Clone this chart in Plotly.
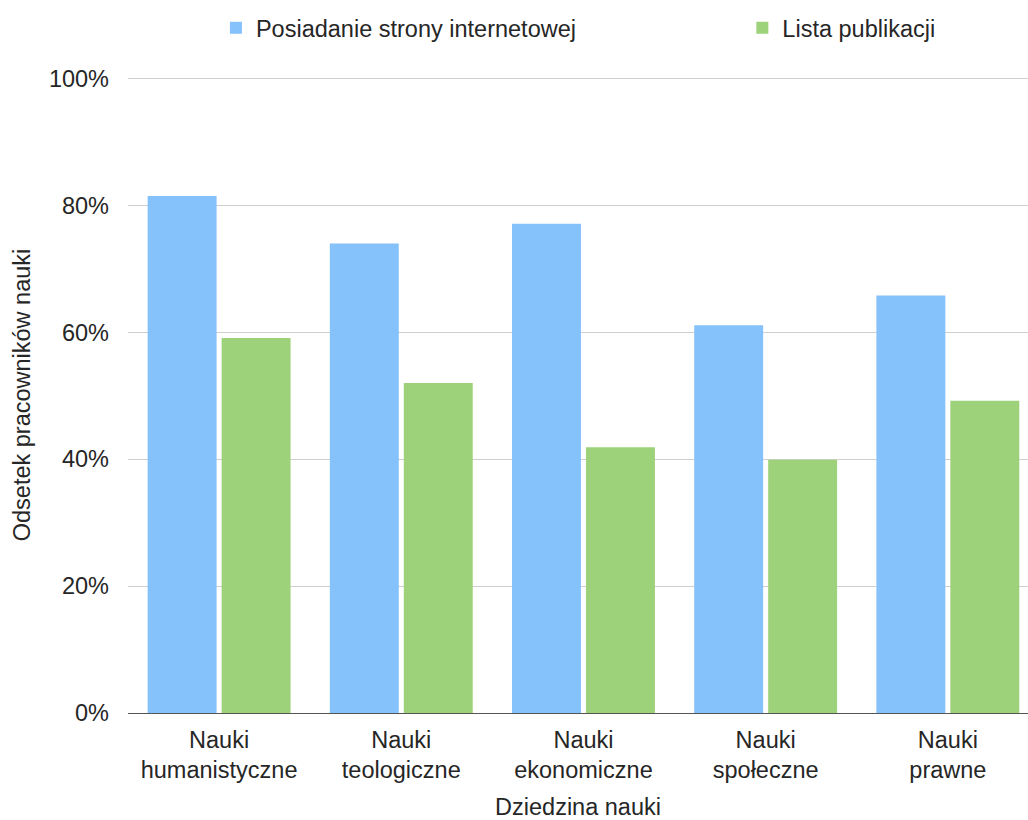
import plotly.graph_objects as go

categories = [
    "Nauki<br>humanistyczne",
    "Nauki<br>teologiczne",
    "Nauki<br>ekonomiczne",
    "Nauki<br>społeczne",
    "Nauki<br>prawne",
]
strona_internetowa = [81.5, 74.0, 77.1, 61.1, 65.8]
lista_publikacji = [59.1, 52.0, 41.9, 39.9, 49.2]
y_ticks = [0, 20, 40, 60, 80, 100]
y_tick_labels = ["0%", "20%", "40%", "60%", "80%", "100%"]

FONT = "Liberation Sans"
TEXT = "#262626"
SIZE = 23.5

fig = go.Figure()
fig.add_trace(go.Bar(
    x=categories, y=strona_internetowa,
    name="Posiadanie strony internetowej",
    marker=dict(color="rgb(133,193,250)", line=dict(width=0)),
    legend="legend",
))
fig.add_trace(go.Bar(
    x=categories, y=lista_publikacji,
    name="Lista publikacji",
    marker=dict(color="rgb(157,210,122)", line=dict(width=0)),
    legend="legend2",
))

legend_style = dict(
    orientation="h",
    xanchor="left",
    yref="container",
    y=1 - 28 / 820, yanchor="middle",
    font=dict(family=FONT, size=SIZE, color=TEXT),
    bgcolor="rgba(0,0,0,0)",
)

fig.update_layout(
    width=1028, height=820,
    margin=dict(l=128, r=0, t=77, b=107, autoexpand=False),
    paper_bgcolor="white", plot_bgcolor="white",
    font=dict(family=FONT, size=SIZE, color=TEXT),
    barmode="group",
    bargap=0.188,
    bargroupgap=0.068,
    showlegend=True,
    legend=dict(legend_style, x=0.0977),
    legend2=dict(legend_style, x=0.6826),
    xaxis=dict(
        range=[-0.5, 4.44],
        showgrid=False,
        showline=False,
        ticks="",
        ticklabelstandoff=10,
        tickfont=dict(family=FONT, size=SIZE, color=TEXT),
        title=dict(text="Dziedzina nauki", font=dict(family=FONT, size=SIZE, color=TEXT), standoff=18),
    ),
    yaxis=dict(
        range=[0, 100.25],
        tickvals=y_ticks,
        ticktext=y_tick_labels,
        showgrid=True,
        gridcolor="#cfcfcf",
        gridwidth=1,
        zeroline=True,
        zerolinecolor="#555555",
        zerolinewidth=1,
        showline=False,
        ticks="",
        ticklabelstandoff=18,
        tickfont=dict(family=FONT, size=SIZE, color=TEXT),
        title=dict(text="Odsetek pracowników nauki", font=dict(family=FONT, size=SIZE, color=TEXT), standoff=11),
    ),
)

fig.write_html("out.html")
